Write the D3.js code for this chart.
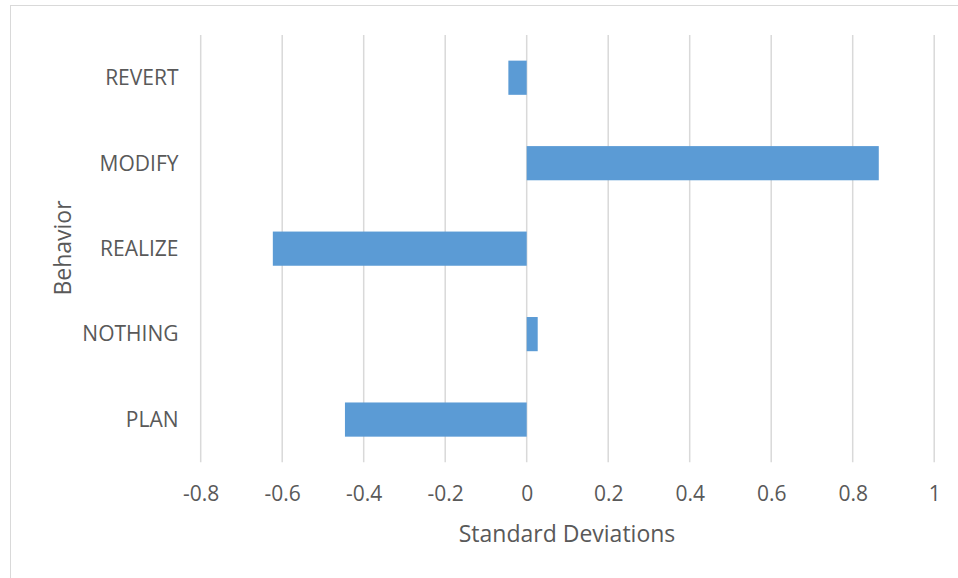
<!DOCTYPE html>
<html>
<head>
<meta charset="utf-8">
<script src="https://cdn.jsdelivr.net/npm/d3@7"></script>
<style>
  html, body { margin: 0; padding: 0; background: #fff; }
  svg { display: block; }
  text { font-family: "Open Sans", sans-serif; fill: #595959; }
</style>
</head>
<body>
<svg id="chart" width="958" height="578"></svg>
<script>
// Behaviors, listed top to bottom
const categories = ["REVERT", "MODIFY", "REALIZE", "NOTHING", "PLAN"];
// Mean difference for each behavior, in standard deviations
const values = [-0.045, 0.864, -0.623, 0.027, -0.446];
// Tick values along the horizontal axis
const xTicks = [-0.8, -0.6, -0.4, -0.2, 0, 0.2, 0.4, 0.6, 0.8, 1];

const svg = d3.select("#chart");

// Chart frame
svg.append("rect")
  .attr("x", 10.5).attr("y", 5.5)
  .attr("width", 1200).attr("height", 1200)
  .attr("fill", "#fff")
  .attr("stroke", "#d9d9d9")
  .attr("stroke-width", 1);

const plot = { left: 200.7, right: 934.2, top: 35, bottom: 462.3 };

const x = d3.scaleLinear().domain([-0.8, 1]).range([plot.left, plot.right]);
const y = d3.scaleBand().domain(categories)
  .range([plot.top, plot.bottom])
  .paddingInner(0.6).paddingOuter(0.3);

// Vertical gridlines
svg.append("g")
  .selectAll("line")
  .data(xTicks)
  .join("line")
  .attr("x1", d => x(d)).attr("x2", d => x(d))
  .attr("y1", plot.top).attr("y2", plot.bottom)
  .attr("stroke", "#d9d9d9")
  .attr("stroke-width", 1.5);

// Bars
svg.append("g")
  .selectAll("rect")
  .data(categories.map((c, i) => ({ c, v: values[i] })))
  .join("rect")
  .attr("x", d => Math.min(x(0), x(d.v)))
  .attr("width", d => Math.abs(x(d.v) - x(0)))
  .attr("y", d => y(d.c))
  .attr("height", y.bandwidth())
  .attr("fill", "#5b9bd5");

// Horizontal axis tick labels
const xAxis = d3.axisBottom(x)
  .tickValues(xTicks)
  .tickFormat(d => String(+d.toFixed(1)))
  .tickSize(0)
  .tickPadding(0);

const gx = svg.append("g")
  .attr("transform", `translate(0, ${plot.bottom})`)
  .call(xAxis);
gx.select(".domain").remove();
gx.selectAll("text")
  .attr("y", 39).attr("dy", null)
  .attr("font-size", 21)
  .style("font-family", "'Open Sans', sans-serif")
  .attr("fill", "#595959");

// Category labels
const yAxis = d3.axisLeft(y).tickSize(0).tickPadding(0);
const gy = svg.append("g")
  .attr("transform", "translate(178.5, 0)")
  .call(yAxis);
gy.select(".domain").remove();
gy.selectAll("text")
  .attr("x", 0).attr("dy", "0.35em")
  .attr("font-size", 21)
  .style("font-family", "'Open Sans', sans-serif")
  .attr("fill", "#595959");

// Axis titles
svg.append("text")
  .attr("x", 567).attr("y", 542)
  .attr("text-anchor", "middle")
  .attr("font-size", 23)
  .text("Standard Deviations");

svg.append("text")
  .attr("transform", "translate(71, 248) rotate(-90)")
  .attr("text-anchor", "middle")
  .attr("font-size", 23)
  .text("Behavior");
</script>
</body>
</html>
